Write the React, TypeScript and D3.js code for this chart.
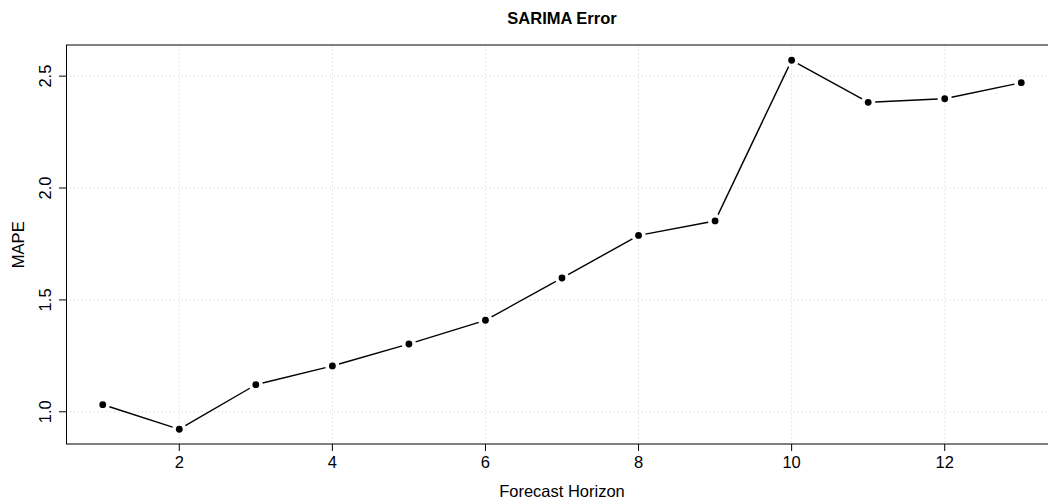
import React from "react";
import * as d3 from "d3";

const horizons = [1, 2, 3, 4, 5, 6, 7, 8, 9, 10, 11, 12, 13];
const mape = [1.032, 0.922, 1.121, 1.205, 1.303, 1.409, 1.598, 1.788, 1.853, 2.571, 2.383, 2.399, 2.471];
const xTicks = [2, 4, 6, 8, 10, 12];
const yTicks = [1.0, 1.5, 2.0, 2.5];
const title = "SARIMA Error";
const xLabel = "Forecast Horizon";
const yLabel = "MAPE";

const W = 1048;
const H = 501;
const left = 66;
const right = 1058;
const top = 45.5;
const bottom = 444;
const font = "Liberation Sans, Arial, sans-serif";

function expand(ext: [number, number]): [number, number] {
  const r = ext[1] - ext[0];
  return [ext[0] - 0.04 * r, ext[1] + 0.04 * r];
}

export default function App() {
  const x = d3.scaleLinear().domain(expand(d3.extent(horizons) as [number, number])).range([left, right]);
  const y = d3.scaleLinear().domain(expand(d3.extent(mape) as [number, number])).range([bottom, top]);
  const pts = horizons.map((h, i) => [x(h), y(mape[i])]);
  const gap = 7;
  const segs = pts.slice(1).map((p, i) => {
    const a = pts[i];
    const dx = p[0] - a[0];
    const dy = p[1] - a[1];
    const len = Math.sqrt(dx * dx + dy * dy);
    const ux = dx / len;
    const uy = dy / len;
    return [a[0] + ux * gap, a[1] + uy * gap, p[0] - ux * gap, p[1] - uy * gap];
  });
  const fs = 16.5;
  return (
    <svg width={W} height={H} style={{ position: "fixed", left: 0, top: 0, background: "#fff" }}>
      <rect x={0} y={0} width={W} height={H} fill="#fff" />
      {xTicks.map((t) => (
        <line key={"gx" + t} x1={x(t)} x2={x(t)} y1={top} y2={bottom} stroke="#cfcfcf" strokeWidth={1} strokeDasharray="1,3" />
      ))}
      {yTicks.map((t) => (
        <line key={"gy" + t} x1={left} x2={right} y1={y(t)} y2={y(t)} stroke="#cfcfcf" strokeWidth={1} strokeDasharray="1,3" />
      ))}
      {/* box */}
      <line x1={left} x2={right} y1={45} y2={45} stroke="#000" strokeWidth={1} />
      <line x1={left} x2={right} y1={bottom} y2={bottom} stroke="#000" strokeWidth={1} />
      <line x1={66.5} x2={66.5} y1={45} y2={bottom} stroke="#000" strokeWidth={1} />
      {/* x axis ticks */}
      {xTicks.map((t) => (
        <g key={"tx" + t}>
          <line x1={x(t)} x2={x(t)} y1={bottom} y2={bottom + 7} stroke="#000" />
          <text x={x(t)} y={468} fontSize={fs} fontFamily={font} textAnchor="middle">{t}</text>
        </g>
      ))}
      {/* y axis ticks */}
      {yTicks.map((t) => (
        <g key={"ty" + t}>
          <line x1={left} x2={left - 7} y1={y(t)} y2={y(t)} stroke="#000" />
          <text transform={`translate(50.5,${y(t)}) rotate(-90)`} fontSize={fs} fontFamily={font} textAnchor="middle">{t.toFixed(1)}</text>
        </g>
      ))}
      {segs.map((s, i) => (
        <line key={"s" + i} x1={s[0]} y1={s[1]} x2={s[2]} y2={s[3]} stroke="#000" strokeWidth={1.4} />
      ))}
      {pts.map((p, i) => (
        <circle key={"p" + i} cx={p[0]} cy={p[1]} r={3.4} fill="#000" />
      ))}
      <text x={(left + right) / 2} y={24} fontSize={fs} fontWeight="bold" fontFamily={font} textAnchor="middle">{title}</text>
      <text x={(left + right) / 2} y={496.5} fontSize={fs} fontFamily={font} textAnchor="middle">{xLabel}</text>
      <text transform={`translate(23.5,${(top + bottom) / 2}) rotate(-90)`} fontSize={fs} fontFamily={font} textAnchor="middle">{yLabel}</text>
    </svg>
  );
}
